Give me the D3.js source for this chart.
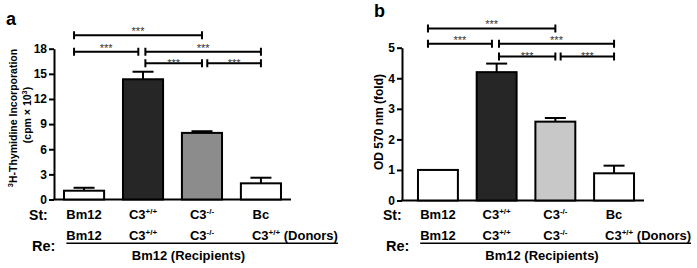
<!DOCTYPE html>
<html>
<head>
<meta charset="utf-8">
<script src="https://cdn.jsdelivr.net/npm/d3@7"></script>
<style>
  body { margin: 0; background: #fff; }
  svg { display: block; font-family: Arial, "Liberation Sans", sans-serif; }
</style>
</head>
<body>
<svg id="chart" width="697" height="268"></svg>
<script>
// groups (strain of stimulator cells)
const categories = ['Bm12', 'C3+/+', 'C3-/-', 'Bc'];
const strainLabels = [['Bm12', ''], ['C3', '+/+'], ['C3', '-/-'], ['Bc', '']];
const donorLabels = [['Bm12', ''], ['C3', '+/+'], ['C3', '-/-'], ['C3', '+/+']];

// panel a: 3H-thymidine incorporation (cpm x 10^3)
const thymidineMean = [1.05, 14.35, 7.95, 1.93];
const thymidineSem = [0.35, 0.9, 0.2, 0.67];
const thymidineTicks = [0, 3, 6, 9, 12, 15, 18];

// panel b: OD 570 nm (fold)
const odMean = [1.0, 4.2, 2.58, 0.89];
const odSem = [0, 0.28, 0.12, 0.25];
const odTicks = [0, 1, 2, 3, 4, 5];

// significance brackets, ends given as (fractional) group index, all ***
const comparisons = [[-0.17, 2], [-0.17, 0.92], [1.04, 3], [1.04, 2], [2.09, 3]];
const comparisonRow = [0, 1, 1, 2, 2];
const thymidineBracketLevels = [19.6, 17.65, 16.25];
const odBracketLevels = [5.63, 5.13, 4.71];

const svg = d3.select('#chart');

function drawPanel(cfg) {
    const g = svg.append('g');

    const x = d3.scaleBand()
        .domain(categories)
        .range(cfg.xRange)
        .paddingInner(0.32)
        .paddingOuter(0.17);
    const bw = x.bandwidth();
    const cx = i => x(categories[0]) + bw / 2 + i * x.step();

    const y = d3.scaleLinear()
        .domain([0, cfg.ticks[cfg.ticks.length - 1]])
        .range(cfg.yRange);

    // y axis
    const yAxis = g.append('g')
        .attr('transform', `translate(${cfg.axisX},0)`)
        .call(d3.axisLeft(y).tickValues(cfg.ticks).tickFormat(d3.format('d'))
            .tickSize(5).tickSizeOuter(0).tickPadding(2));
    yAxis.selectAll('path, line').attr('stroke', '#000').attr('stroke-width', 2);
    yAxis.selectAll('text')
        .attr('font-size', 12)
        .attr('font-weight', 'bold')
        .attr('font-family', 'Arial, "Liberation Sans", sans-serif')
        .attr('fill', '#000');

    // x axis line
    g.append('line')
        .attr('x1', cfg.axisX - 1).attr('x2', cfg.xRange[1])
        .attr('y1', y(0)).attr('y2', y(0))
        .attr('stroke', '#000').attr('stroke-width', 2);

    // bars
    g.selectAll('rect.bar')
        .data(cfg.mean)
        .join('rect')
        .attr('class', 'bar')
        .attr('x', (d, i) => x(categories[i]))
        .attr('y', d => y(d))
        .attr('width', bw)
        .attr('height', d => y(0) - y(d))
        .attr('fill', (d, i) => cfg.fills[i])
        .attr('stroke', '#000')
        .attr('stroke-width', 2);

    // error bars (upper only)
    const err = g.selectAll('g.err')
        .data(cfg.mean.map((m, i) => ({ m, s: cfg.sem[i], i })).filter(d => d.s > 0))
        .join('g')
        .attr('class', 'err')
        .attr('stroke', '#000')
        .attr('stroke-width', 2);
    err.append('line')
        .attr('x1', d => cx(d.i)).attr('x2', d => cx(d.i))
        .attr('y1', d => y(d.m)).attr('y2', d => y(d.m + d.s));
    err.append('line')
        .attr('x1', d => cx(d.i) - 10.5).attr('x2', d => cx(d.i) + 10.5)
        .attr('y1', d => y(d.m + d.s)).attr('y2', d => y(d.m + d.s));

    // significance brackets
    const starGap = [6, 6, 2.5];
    const br = g.selectAll('g.bracket')
        .data(comparisons.map((c, k) => ({ c, row: comparisonRow[k] })))
        .join('g')
        .attr('class', 'bracket');
    br.append('path')
        .attr('d', d => {
            const x1 = cx(d.c[0]), x2 = cx(d.c[1]), yy = y(cfg.levels[d.row]);
            return `M${x1},${yy - 4}V${yy + 4}M${x1},${yy}H${x2}M${x2},${yy - 4}V${yy + 4}`;
        })
        .attr('fill', 'none')
        .attr('stroke', '#000')
        .attr('stroke-width', 2);
    br.append('text')
        .attr('x', d => (cx(d.c[0]) + cx(d.c[1])) / 2)
        .attr('y', d => y(cfg.levels[d.row]) - starGap[d.row] + 6)
        .attr('text-anchor', 'middle')
        .attr('font-size', 11)
        .attr('fill', '#333')
        .text('***');

    // y axis title
    cfg.yTitle.forEach(t => {
        const txt = g.append('text')
            .attr('transform', `translate(${t.x},${t.y}) rotate(-90)`)
            .attr('text-anchor', 'middle')
            .attr('font-size', t.size)
            .attr('font-weight', 'bold');
        t.parts.forEach(p => {
            const ts = txt.append('tspan').text(p[0]);
            if (p[1] === 'sup') ts.attr('font-size', t.size * 0.7).attr('baseline-shift', 'super');
        });
    });

    // label rows
    const addLabel = (sel, lab, suffix) => {
        sel.append('tspan').text(lab[0]);
        if (lab[1]) sel.append('tspan').text(lab[1]).attr('font-size', 8).attr('dy', -5);
        if (suffix) sel.append('tspan').text(suffix).attr('dy', lab[1] ? 5 : 0);
    };
    const c0 = cx(0);

    g.append('text').attr('x', c0 - 55).attr('y', 220)
        .attr('font-size', 14).attr('font-weight', 'bold').text('St:');
    strainLabels.forEach((lab, i) => {
        const t = g.append('text').attr('x', cx(i)).attr('y', 218.5)
            .attr('text-anchor', 'middle').attr('font-size', 13).attr('font-weight', 'bold');
        addLabel(t, lab);
    });

    g.append('text').attr('x', c0 - 52).attr('y', 250.5)
        .attr('font-size', 14.5).attr('font-weight', 'bold').text('Re:');
    const donorNodes = donorLabels.map((lab, i) => {
        const last = i === donorLabels.length - 1;
        const t = g.append('text').attr('y', 240)
            .attr('font-size', 13).attr('font-weight', 'bold');
        addLabel(t, lab, last ? ' (Donors)' : null);
        if (last) {
            t.attr('x', cx(i) - 9).attr('text-anchor', 'start');
        } else {
            t.attr('x', cx(i)).attr('text-anchor', 'middle');
        }
        return t.node();
    });
    const b0 = donorNodes[0].getBBox();
    const b3 = donorNodes[donorNodes.length - 1].getBBox();
    g.append('line')
        .attr('x1', b0.x).attr('x2', b3.x + b3.width)
        .attr('y1', 243.3).attr('y2', 243.3)
        .attr('stroke', '#000').attr('stroke-width', 1.5);
    g.append('text')
        .attr('x', (cx(0) + cx(3)) / 2 + 16).attr('y', 259.5)
        .attr('text-anchor', 'middle').attr('font-size', 13).attr('font-weight', 'bold')
        .text('Bm12 (Recipients)');

    // panel letter
    g.append('text').attr('x', cfg.letterPos[0]).attr('y', cfg.letterPos[1])
        .attr('font-size', 18).attr('font-weight', 'bold').text(cfg.letter);
}

drawPanel({
    letter: 'a', letterPos: [6, 25],
    xRange: [54, 291], axisX: 54,
    yRange: [199.5, 48.7],
    ticks: thymidineTicks,
    mean: thymidineMean, sem: thymidineSem,
    levels: thymidineBracketLevels,
    fills: ['#fff', '#262626', '#8c8c8c', '#fff'],
    yTitle: [
        { x: 17, y: 118, size: 10.5, parts: [['3', 'sup'], ['H-Thymidine Incorporation']] },
        { x: 31, y: 115, size: 10.5, parts: [['(cpm \u00d7 10'], ['3', 'sup'], [')']] }
    ]
});

drawPanel({
    letter: 'b', letterPos: [374, 16.5],
    xRange: [408, 644], axisX: 402,
    yRange: [200.5, 47.7],
    ticks: odTicks,
    mean: odMean, sem: odSem,
    levels: odBracketLevels,
    fills: ['#fff', '#262626', '#c8c8c8', '#fff'],
    yTitle: [
        { x: 382.5, y: 122, size: 12, parts: [['OD 570 nm (fold)']] }
    ]
});
</script>
</body>
</html>
